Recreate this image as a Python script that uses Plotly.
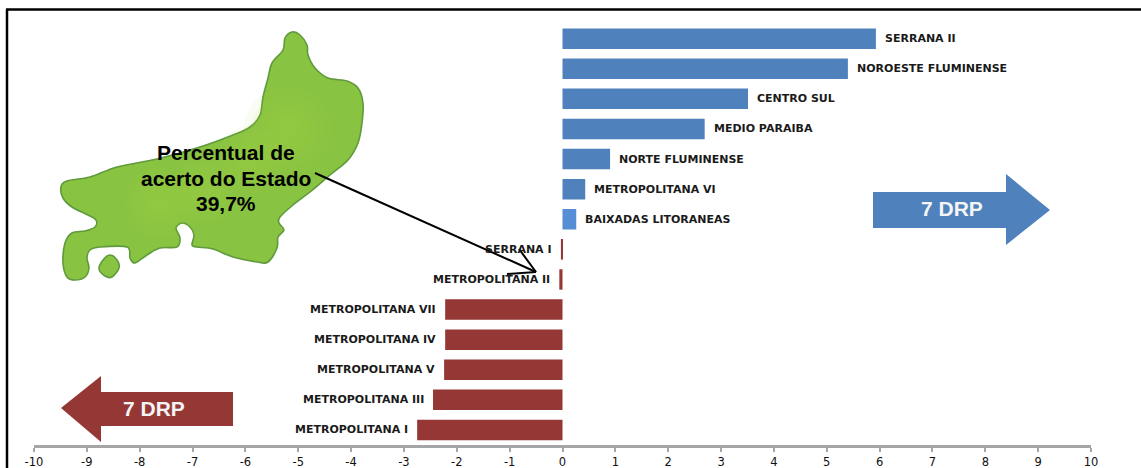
import plotly.graph_objects as go

W, H = 1141, 468

# Regions ordered from the bottom of the chart to the top
regions = [
    "METROPOLITANA I", "METROPOLITANA III", "METROPOLITANA V", "METROPOLITANA IV",
    "METROPOLITANA VII", "METROPOLITANA II", "SERRANA I", "BAIXADAS LITORANEAS",
    "METROPOLITANA VI", "NORTE FLUMINENSE", "MEDIO PARAIBA", "CENTRO SUL",
    "NOROESTE FLUMINENSE", "SERRANA II",
]
values = [-2.75, -2.45, -2.24, -2.22, -2.22, -0.06, -0.03, 0.26, 0.43, 0.90, 2.69, 3.51, 5.40, 5.93]
bar_colors = ["#953735"] * 7 + ["#558ed5"] + ["#4f81bd"] * 6
x_ticks = list(range(-10, 11))
x_tick_labels = [str(t) for t in x_ticks]

state_lines = ["Percentual de", "acerto do Estado", "39,7%"]
state_line_rows = [153, 178, 203]
arrow_text = "7 DRP"

# State silhouette and the offshore island, in page pixels
state_outline = [
    (292, 32), (300, 35), (307, 45), (308, 55), (315, 68), (328, 78), (347, 81), (358, 88),
    (363, 103), (362, 123), (358, 143), (348, 160), (330, 175), (310, 192), (293, 205),
    (280, 217), (279, 223), (284, 230), (278, 237), (277, 248), (268, 262), (257, 262),
    (233, 257), (213, 249), (197, 247), (192, 245), (194, 235), (190, 227), (182, 223),
    (176, 228), (180, 238), (177, 247), (160, 248), (147, 255), (135, 263), (130, 258),
    (127, 247), (100, 247), (90, 250), (87, 258), (89, 268), (85, 277), (75, 280), (67, 277),
    (63, 263), (65, 243), (72, 233), (85, 231), (95, 227), (96, 220), (88, 215), (72, 207),
    (63, 198), (61, 187), (67, 181), (90, 177), (117, 167), (157, 159), (200, 147),
    (233, 135), (250, 127), (260, 115), (263, 97), (268, 78), (272, 63), (283, 50), (285, 38),
]
island_outline = [(110, 255), (117, 260), (119, 268), (112, 277), (105, 276), (99, 269), (103, 260)]

# Lighter areas on the state: centre x, centre y, largest radius
state_highlights = [(288, 130, 44), (250, 160, 34), (205, 190, 34), (160, 203, 36)]

# Polygons of the two block arrows, in page pixels
red_arrow = [(61, 408), (101, 376), (101, 392), (233, 392), (233, 426), (101, 426), (101, 442)]
blue_arrow = [(1050, 210), (1006, 174), (1006, 192), (873, 192), (873, 228), (1006, 228), (1006, 245)]

PLOT_LEFT, PLOT_RIGHT, PLOT_TOP, PLOT_BOTTOM = 34, 1091, 23.6, 445


def px(x):
    return x / W


def py(y):
    return 1 - y / H


def poly_path(points):
    coords = [f"{px(x):.5f},{py(y):.5f}" for x, y in points]
    return "M" + " L".join(coords) + " Z"


def smooth_path(points):
    # Closed Catmull-Rom curve expressed as cubic Bezier segments
    n = len(points)
    parts = [f"M{px(points[0][0]):.5f},{py(points[0][1]):.5f}"]
    for i in range(n):
        p0, p1, p2, p3 = points[i - 1], points[i], points[(i + 1) % n], points[(i + 2) % n]
        c1 = (p1[0] + (p2[0] - p0[0]) / 6, p1[1] + (p2[1] - p0[1]) / 6)
        c2 = (p2[0] - (p3[0] - p1[0]) / 6, p2[1] - (p3[1] - p1[1]) / 6)
        parts.append(
            f"C{px(c1[0]):.5f},{py(c1[1]):.5f} {px(c2[0]):.5f},{py(c2[1]):.5f} {px(p2[0]):.5f},{py(p2[1]):.5f}"
        )
    return " ".join(parts) + " Z"


def paper_line(x0, y0, x1, y1, color="black", width=2):
    return dict(type="line", xref="paper", yref="paper", x0=px(x0), y0=py(y0), x1=px(x1), y1=py(y1),
                line=dict(color=color, width=width))


shapes = [
    # Frame: top and left edges only
    paper_line(6, 9.5, W, 9.5, width=2.5),
    paper_line(7, 9.5, 7, H, width=2.5),
    # State map
    dict(type="path", xref="paper", yref="paper", path=smooth_path(state_outline),
         fillcolor="#88c341", line=dict(color="#5f9a3c", width=1.6)),
    dict(type="path", xref="paper", yref="paper", path=smooth_path(island_outline),
         fillcolor="#88c341", line=dict(color="#5f9a3c", width=1.6)),
]

# Soft highlight built from stacked translucent discs
for cx, cy, radius in state_highlights:
    for step in range(6):
        r = radius * (1 - step / 6)
        shapes.append(dict(type="circle", xref="paper", yref="paper",
                           x0=px(cx - r), y0=py(cy - r), x1=px(cx + r), y1=py(cy + r),
                           fillcolor="rgba(172,212,72,0.07)", line=dict(width=0)))

shapes += [
    # Block arrows
    dict(type="path", xref="paper", yref="paper", path=poly_path(red_arrow),
         fillcolor="#953735", line=dict(width=0)),
    dict(type="path", xref="paper", yref="paper", path=poly_path(blue_arrow),
         fillcolor="#4f81bd", line=dict(width=0)),
    # Pointer from the state figure to the zero line
    paper_line(315, 173, 536, 272),
    paper_line(519, 249, 536, 272),
    paper_line(507, 274, 536, 272),
]

annotations = [
    dict(xref="paper", yref="paper", x=px(154), y=py(408), text=f"<b>{arrow_text}</b>", showarrow=False,
         xanchor="center", yanchor="middle",
         font=dict(family="Liberation Sans", size=21, color="#f4f4f4")),
    dict(xref="paper", yref="paper", x=px(952), y=py(209), text=f"<b>{arrow_text}</b>", showarrow=False,
         xanchor="center", yanchor="middle",
         font=dict(family="Liberation Sans", size=21, color="#f4f4f4")),
]

for line, row in zip(state_lines, state_line_rows):
    annotations.append(dict(
        xref="paper", yref="paper", x=px(226), y=py(row), text=f"<b>{line}</b>", showarrow=False,
        xanchor="center", yanchor="middle",
        font=dict(family="Liberation Sans", size=21, color="black"),
    ))

# Region names sit just beyond the end of each bar
for name, value in zip(regions, values):
    annotations.append(dict(
        x=value, y=name, xref="x", yref="y", text=f"<b>{name}</b>", showarrow=False,
        xanchor="left" if value > 0 else "right", xshift=7 if value > 0 else -7, yshift=0,
        font=dict(family="DejaVu Sans", size=11, color="#1a1a1a"),
    ))

fig = go.Figure(go.Bar(
    x=values, y=regions, orientation="h", marker=dict(color=bar_colors, line=dict(width=0)),
    width=0.68,
))

fig.update_layout(
    width=W, height=H, margin=dict(l=0, r=0, t=0, b=0, autoexpand=False),
    paper_bgcolor="white", plot_bgcolor="white", showlegend=False,
    shapes=shapes, annotations=annotations,
    xaxis=dict(
        domain=[PLOT_LEFT / W, PLOT_RIGHT / W], range=[-10, 10], tickvals=x_ticks, ticktext=x_tick_labels,
        ticks="outside", ticklen=4, tickwidth=1.5, tickcolor="#a6a6a6", showline=True, linecolor="#a6a6a6",
        linewidth=2.5, showgrid=False, zeroline=False, anchor="y", automargin=False,
        tickfont=dict(family="DejaVu Sans", size=11.5, color="#111111"),
    ),
    yaxis=dict(
        domain=[1 - PLOT_BOTTOM / H, 1 - PLOT_TOP / H], type="category", categoryorder="array",
        categoryarray=regions, showticklabels=False, ticks="", showline=False, showgrid=False,
        zeroline=False,
    ),
)

fig.write_html("out.html")
